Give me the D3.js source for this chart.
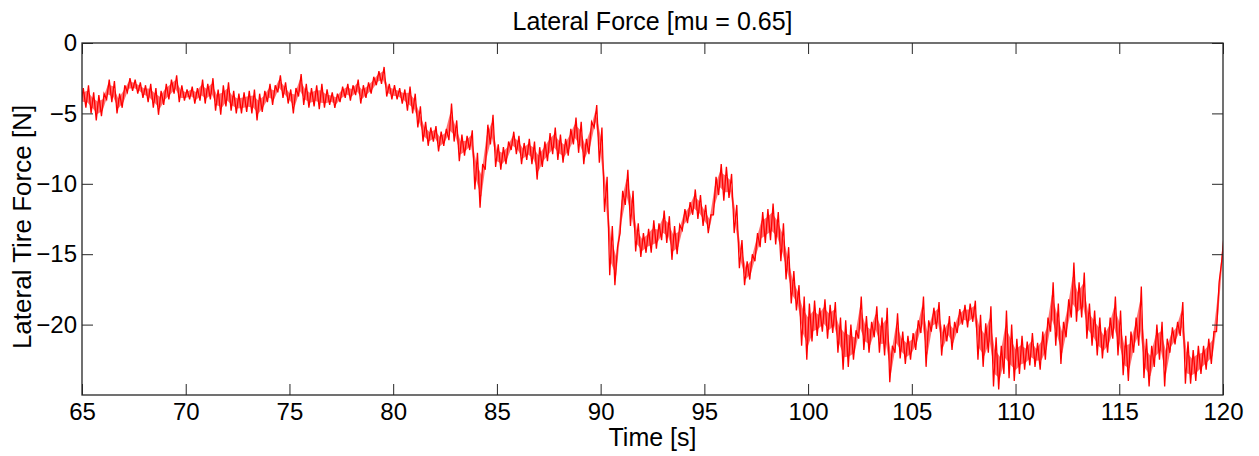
<!DOCTYPE html>
<html>
<head>
<meta charset="utf-8">
<script src="https://cdnjs.cloudflare.com/ajax/libs/d3/7.8.5/d3.min.js"></script>
<style>
  body { margin: 0; background: #fff; }
  svg { display: block; font-family: Arial, "Liberation Sans", sans-serif; }
</style>
</head>
<body>
<svg id="chart" width="1259" height="456"></svg>
<script>
const chartTitle = "Lateral Force [mu = 0.65]"
const xLabel = "Time [s]"
const yLabel = "Lateral Tire Force [N]"

const xTicks = [65, 70, 75, 80, 85, 90, 95, 100, 105, 110, 115, 120]
const yTicks = [0, -5, -10, -15, -20]

// signal in 0.25 s bins, 65 s .. 120 s: upper and lower edge of the noise band
const binStart = 65
const binStep = 0.25
const bandHigh = [
  -3.2,-3.0,-3.5,-3.7,-3.6,-2.6,-2.7,-3.6,-3.0,-2.5,-2.6,-2.8,-3.0,-2.9,-3.2,-3.4,-2.9,-2.6,-2.3,-3.0,
  -3.3,-3.1,-3.2,-2.6,-2.9,-2.5,-3.3,-3.0,-2.8,-3.4,-3.6,-3.5,-3.4,-3.3,-3.6,-3.4,-2.9,
  -3.0,-2.3,-2.8,-3.3,-3.2,-2.2,-2.9,-3.2,-3.0,-2.9,-3.3,-3.5,-3.6,-3.1,-2.9,-3.0,-2.6,-3.0,-2.8,-2.4,
  -2.0,-1.7,-2.9,-3.0,-3.2,-3.3,-3.1,-3.6,-4.5,-5.6,-6.0,-5.9,-6.3,-6.1,-4.3,-5.5,-6.5,
  -6.6,-6.2,-7.8,-8.6,-5.8,-5.1,-7.2,-7.4,-7.0,-6.3,-6.6,-7.1,-6.8,-7.0,-7.4,-7.0,-6.4,-6.0,-6.5,-6.8,
  -6.1,-5.3,-5.6,-6.8,-5.6,-4.4,-6.0,-9.5,-13.0,-14.5,-10.5,-9.0,-10.5,-12.8,-13.5,-13.2,
  -12.6,-12.8,-11.9,-12.3,-13.0,-12.9,-11.8,-11.3,-10.4,-10.8,-11.5,-12.2,-9.5,-8.6,-8.8,-9.3,-11.5,-14.0,
  -15.5,-15.0,-13.5,-12.0,-11.8,-11.4,-12.0,-12.8,-14.5,-16.2,-17.2,-18.0,-18.5,-18.3,-18.8,-18.2,-18.6,-18.4,-19.5,
  -19.7,-20.0,-20.4,-18.0,-19.4,-19.8,-18.7,-19.5,-18.8,-21.5,-19.2,-20.5,-20.8,-20.6,-19.7,-18.0,-19.7,-18.8,
  -18.4,-20.0,-19.4,-19.8,-18.9,-18.6,-18.5,-18.3,-19.3,-19.9,-18.7,-20.9,-21.5,-19.0,-20.0,-21.0,-20.8,-21.2,-20.6,
  -21.3,-20.5,-19.5,-17.0,-18.5,-19.8,-18.2,-15.6,-17.0,-16.3,-18.5,-19.0,-19.5,-20.2,-19.5,-18.0,-19.0,-20.8,
  -20.5,-19.5,-17.3,-21.0,-21.5,-20.0,-19.8,-21.0,-20.2,-19.8,-18.4,-21.2,-21.8,-21.5,-21.5,-21.0,-20.5,-17.0,-13.5
]
const bandLow = [
  -4.5,-4.6,-5.0,-5.5,-5.2,-4.0,-4.2,-5.0,-4.6,-3.5,-3.4,-3.6,-3.9,-4.2,-4.6,-5.1,-4.4,-4.0,-3.6,-4.2,
  -4.1,-4.0,-4.3,-4.1,-4.3,-4.0,-4.8,-5.1,-4.5,-4.8,-5.0,-5.0,-4.9,-5.0,-5.5,-4.9,-4.2,
  -4.4,-3.5,-3.9,-4.3,-5.0,-3.8,-4.4,-4.6,-4.5,-4.7,-4.6,-4.4,-4.6,-4.2,-3.9,-4.1,-3.7,-4.3,-3.9,-3.6,
  -3.0,-2.9,-3.8,-4.0,-4.0,-4.3,-4.8,-5.0,-6.0,-7.0,-7.3,-7.0,-7.7,-7.3,-6.9,-7.0,-8.4,
  -8.0,-7.6,-10.4,-11.7,-9.0,-7.2,-8.8,-9.0,-8.6,-7.6,-7.9,-8.6,-8.3,-8.6,-9.7,-8.8,-8.4,-7.9,-8.3,-8.5,
  -8.0,-7.2,-7.8,-8.6,-7.9,-6.0,-8.5,-12.0,-16.5,-17.2,-13.5,-11.5,-13.0,-14.8,-15.2,-14.9,
  -14.9,-14.6,-14.0,-14.2,-15.4,-15.0,-13.3,-12.8,-12.2,-12.5,-13.0,-13.5,-12.2,-10.8,-11.2,-11.0,-13.5,-16.0,
  -17.2,-16.8,-15.5,-14.5,-14.2,-14.0,-14.3,-15.5,-16.8,-18.5,-19.0,-21.5,-22.5,-21.2,-20.8,-20.5,-21.0,-20.6,-22.0,
  -23.2,-23.0,-22.5,-21.0,-21.8,-22.0,-20.9,-22.0,-22.2,-24.1,-22.0,-22.4,-22.8,-22.5,-21.8,-20.6,-23.0,-20.5,
  -20.3,-22.2,-21.2,-21.8,-20.6,-20.0,-20.2,-19.8,-22.5,-23.0,-22.0,-24.4,-24.6,-23.5,-23.8,-24.0,-23.5,-23.2,-22.9,
  -23.0,-23.2,-22.5,-20.5,-21.5,-22.8,-20.9,-19.5,-19.8,-19.5,-21.0,-21.5,-22.2,-22.4,-22.0,-21.0,-22.2,-23.6,
  -24.0,-22.0,-21.5,-23.8,-24.4,-23.0,-22.5,-24.4,-22.0,-21.4,-20.8,-24.2,-24.2,-24.0,-23.5,-23.2,-22.8,-20.5,-15.5
]

const svg = d3.select("#chart")
const margin = { top: 43, right: 36, bottom: 61, left: 82 }
const width = 1259
const height = 456
const innerW = width - margin.left - margin.right
const innerH = height - margin.top - margin.bottom

const xScale = d3.scaleLinear().domain([65, 120]).range([margin.left, margin.left + innerW])
const yScale = d3.scaleLinear().domain([-25, 0]).range([margin.top + innerH, margin.top])

const bins = bandHigh.map((hi, i) => ({ t: binStart + i * binStep, hi, lo: bandLow[i] }))

// each bin gives a low and a high sample, drawn as a zigzag trace
const trace = []
bins.forEach(b => {
  trace.push([b.t - binStep / 4, b.lo])
  trace.push([b.t + binStep / 4, b.hi])
})

svg.append("defs").append("clipPath").attr("id", "plotClip")
  .append("rect")
  .attr("x", margin.left).attr("y", margin.top)
  .attr("width", innerW).attr("height", innerH)

const plot = svg.append("g").attr("clip-path", "url(#plotClip)")

// the core of the noise band, filled so the trace reads as dense as the sampled signal
plot.append("path")
  .datum(bins)
  .attr("fill", "#ff0000")
  .attr("fill-opacity", 0.55)
  .attr("stroke", "none")
  .attr("d", d3.area()
    .x(d => xScale(d.t))
    .y0(d => yScale(d.lo + (d.hi - d.lo) * 0.25))
    .y1(d => yScale(d.hi - (d.hi - d.lo) * 0.25)))

plot.append("path")
  .datum(trace)
  .attr("fill", "none")
  .attr("stroke", "#ff0000")
  .attr("stroke-width", 1.3)
  .attr("d", d3.line().x(d => xScale(d[0])).y(d => yScale(d[1])))

const tickLen = 11
const styleAxis = g => {
  g.select(".domain").remove()
  g.selectAll(".tick line").attr("stroke", "#262626")
  g.selectAll(".tick text")
    .attr("fill", "#000")
    .attr("font-size", 24)
    .attr("font-family", "Arial, 'Liberation Sans', sans-serif")
}

svg.append("g")
  .attr("transform", `translate(0,${margin.top + innerH})`)
  .call(d3.axisBottom(xScale).tickValues(xTicks).tickSizeInner(-tickLen).tickSizeOuter(0).tickPadding(8))
  .call(styleAxis)

svg.append("g")
  .attr("transform", `translate(0,${margin.top})`)
  .call(d3.axisTop(xScale).tickValues(xTicks).tickSizeInner(-tickLen).tickSizeOuter(0).tickFormat(""))
  .call(styleAxis)

svg.append("g")
  .attr("transform", `translate(${margin.left},0)`)
  .call(d3.axisLeft(yScale).tickValues(yTicks).tickSizeInner(-tickLen).tickSizeOuter(0).tickPadding(5))
  .call(styleAxis)

svg.append("g")
  .attr("transform", `translate(${margin.left + innerW},0)`)
  .call(d3.axisRight(yScale).tickValues(yTicks).tickSizeInner(-tickLen).tickSizeOuter(0).tickFormat(""))
  .call(styleAxis)

svg.append("rect")
  .attr("x", margin.left).attr("y", margin.top)
  .attr("width", innerW).attr("height", innerH)
  .attr("fill", "none")
  .attr("stroke", "#262626")
  .attr("stroke-width", 1.3)

svg.append("text")
  .attr("x", margin.left + innerW / 2)
  .attr("y", 30)
  .attr("text-anchor", "middle")
  .attr("font-size", 25)
  .text(chartTitle)

svg.append("text")
  .attr("x", margin.left + innerW / 2)
  .attr("y", 446)
  .attr("text-anchor", "middle")
  .attr("font-size", 25)
  .text(xLabel)

svg.append("text")
  .attr("transform", `translate(31,${margin.top + innerH / 2 + 8}) rotate(-90)`)
  .attr("text-anchor", "middle")
  .attr("font-size", 26)
  .text(yLabel)
</script>
</body>
</html>
